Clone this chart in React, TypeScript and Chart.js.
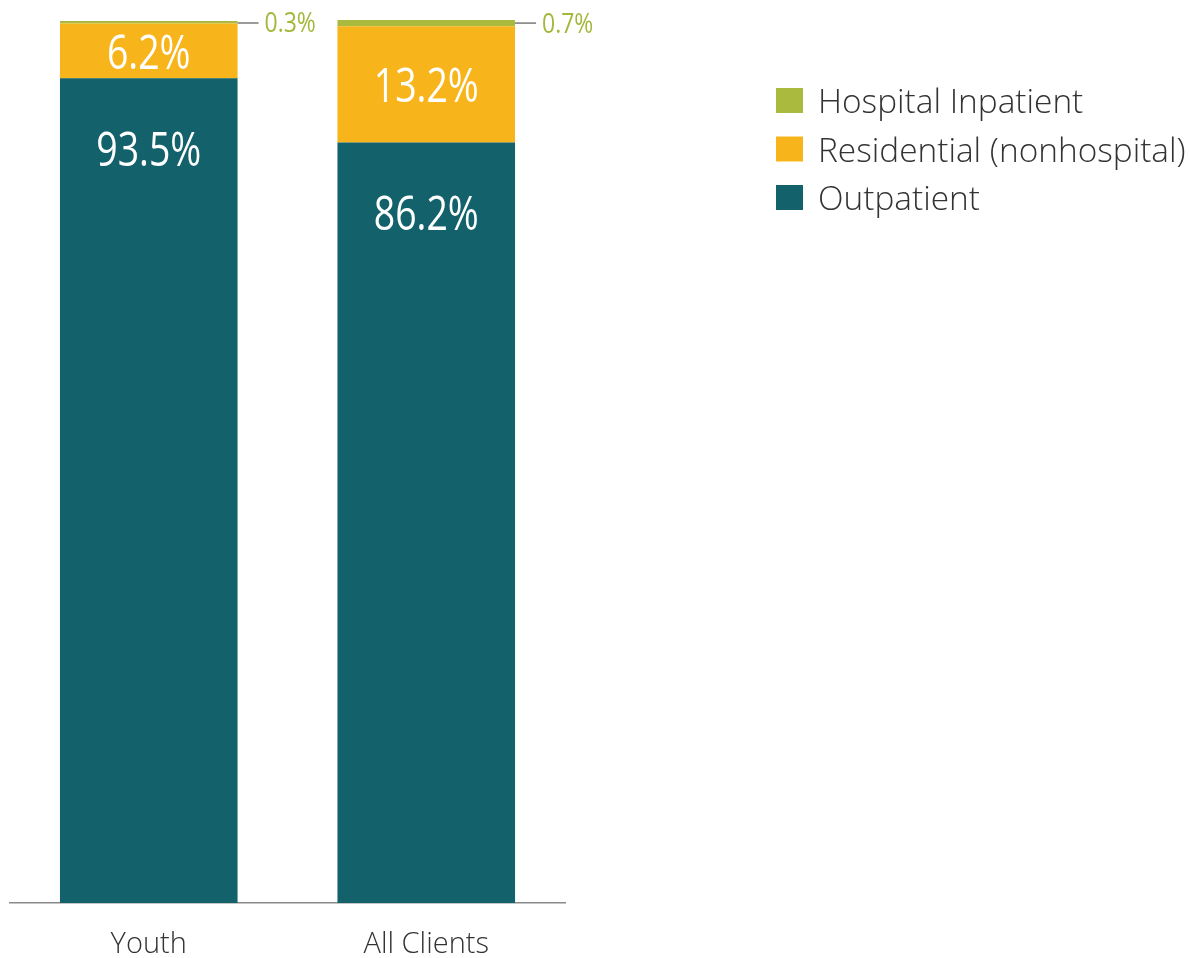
import React, { useEffect, useRef } from "react";
import { Chart, registerables } from "chart.js";

Chart.register(...registerables);

const categories = ["Youth", "All Clients"];
const seriesNames = ["Outpatient", "Residential (nonhospital)", "Hospital Inpatient"];
const outpatient = [93.5, 86.2];
const residential = [6.2, 13.2];
const hospital = [0.3, 0.7];
const colors = ["#12616B", "#F7B51B", "#A9BA3E"];

const FONT = "'Open Sans', 'Noto Sans', sans-serif";

function narrowText(ctx: any, text: string, x: number, y: number, sx: number, align: string) {
  ctx.save();
  ctx.translate(x, y);
  ctx.scale(sx, 1);
  ctx.textAlign = align;
  ctx.fillText(text, 0, 0);
  ctx.restore();
}

const labelPlugin = {
  id: "valueLabels",
  afterDatasetsDraw(chart: any) {
    const ctx = chart.ctx;
    ctx.save();
    ctx.textBaseline = "middle";
    const m0 = chart.getDatasetMeta(0);
    m0.data.forEach((el: any, i: number) => {
      ctx.fillStyle = "#ffffff";
      ctx.font = `48px ${FONT}`;
      narrowText(ctx, outpatient[i].toFixed(1) + "%", el.x, el.y + 74, 0.78, "center");
    });
    const m1 = chart.getDatasetMeta(1);
    m1.data.forEach((el: any, i: number) => {
      ctx.fillStyle = "#ffffff";
      ctx.font = `48px ${FONT}`;
      narrowText(ctx, residential[i].toFixed(1) + "%", el.x, (el.y + el.base) / 2 + 4, 0.78, "center");
    });
    const m2 = chart.getDatasetMeta(2);
    m2.data.forEach((el: any, i: number) => {
      const right = el.x + el.width / 2;
      const yMid = Math.max((el.y + el.base) / 2, 23);
      ctx.strokeStyle = "#7a7a7a";
      ctx.lineWidth = 1.5;
      ctx.beginPath();
      ctx.moveTo(right, yMid);
      ctx.lineTo(right + 21, yMid);
      ctx.stroke();
      ctx.fillStyle = "#A3B83A";
      ctx.font = `28px ${FONT}`;
      narrowText(ctx, hospital[i].toFixed(1) + "%", right + 27, yMid + 1.5, 0.82, "left");
    });
    ctx.restore();
  },
};

const legendPlugin = {
  id: "customLegend",
  afterDraw(chart: any) {
    const ctx = chart.ctx;
    ctx.save();
    const order = [2, 1, 0];
    order.forEach((dsIndex, row) => {
      const top = 88 + row * 48.5;
      ctx.fillStyle = colors[dsIndex];
      ctx.fillRect(776, top, 27, 25);
      ctx.fillStyle = "#333333";
      ctx.font = `300 33.4px ${FONT}`;
      ctx.textAlign = "left";
      ctx.textBaseline = "alphabetic";
      ctx.fillText(chart.data.datasets[dsIndex].label, 818, top + 25);
    });
    ctx.restore();
  },
};

export default function App() {
  const ref = useRef<HTMLCanvasElement>(null);
  useEffect(() => {
    if (!ref.current) return;
    const seriesData = [outpatient, residential, hospital];
    const chart = new Chart(ref.current, {
      type: "bar",
      data: {
        labels: categories,
        datasets: seriesNames.map((name, i) => ({
          label: name,
          data: seriesData[i],
          backgroundColor: colors[i],
          borderWidth: 0,
          barPercentage: 0.8,
          categoryPercentage: 0.8,
        })),
      },
      options: {
        animation: false,
        responsive: false,
        maintainAspectRatio: false,
        layout: { padding: { left: 10, right: 625, top: 20, bottom: 0 } },
        plugins: { legend: { display: false }, tooltip: { enabled: false } },
        scales: {
          x: {
            stacked: true,
            grid: { display: false, drawTicks: false },
            border: { display: true, color: "#8a8a8a", width: 1.5 },
            afterFit: (scale: any) => {
              scale.height = 55;
            },
            ticks: {
              color: "#333333",
              padding: 27,
              font: { family: FONT, size: 29, weight: "300" as any, lineHeight: 1 },
            },
          },
          y: {
            stacked: true,
            display: false,
            min: 0,
            max: 100.1,
          },
        },
      },
      plugins: [labelPlugin, legendPlugin],
    });
    return () => chart.destroy();
  }, []);
  return (
    <div style={{ position: "fixed", left: 0, top: 0, width: 1190, height: 958, background: "#fff" }}>
      <canvas ref={ref} width={1190} height={958} style={{ width: 1190, height: 958 }} />
    </div>
  );
}
